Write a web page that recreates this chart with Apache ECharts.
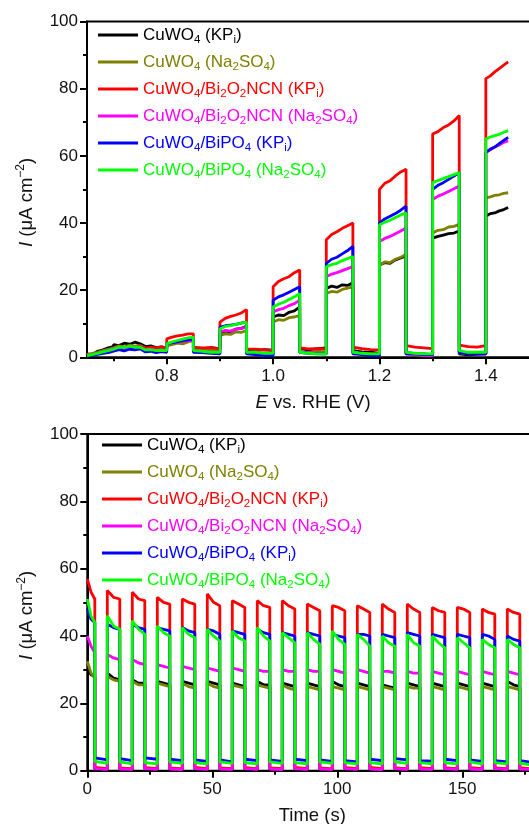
<!DOCTYPE html>
<html>
<head>
<meta charset="utf-8">
<script src="https://cdn.jsdelivr.net/npm/echarts@6/dist/echarts.min.js"></script>
<style>
  html, body { margin: 0; padding: 0; background: #fff; }
  #chart { width: 529px; height: 824px; }
</style>
</head>
<body>
<div id="chart"></div>
<script>
// ---- sample names, legend markup and colours ----
const seriesNames = [
  'CuWO4 (KPi)', 'CuWO4 (Na2SO4)', 'CuWO4/Bi2O2NCN (KPi)',
  'CuWO4/Bi2O2NCN (Na2SO4)', 'CuWO4/BiPO4 (KPi)', 'CuWO4/BiPO4 (Na2SO4)'
];
const legendMarkup = [
  'CuWO{s|4} (KP{s|i})', 'CuWO{s|4} (Na{s|2}SO{s|4})', 'CuWO{s|4}/Bi{s|2}O{s|2}NCN (KP{s|i})',
  'CuWO{s|4}/Bi{s|2}O{s|2}NCN (Na{s|2}SO{s|4})', 'CuWO{s|4}/BiPO{s|4} (KP{s|i})', 'CuWO{s|4}/BiPO{s|4} (Na{s|2}SO{s|4})'
];
const seriesColors = ['#000000', '#808000', '#ff0000', '#ff00ff', '#0000ff', '#00ff00'];

// ---- chopped-light LSV: potential edges (V) and current (µA cm^-2) in each interval ----
const potentialEdges = [0.65, 0.70, 0.75, 0.80, 0.85, 0.90, 0.95, 1.00, 1.05, 1.10, 1.15, 1.20, 1.25, 1.30, 1.35, 1.40, 1.442];
const potentialTicks = [0.8, 1.0, 1.2, 1.4];
const potentialMinorTicks = [0.7, 0.9, 1.1, 1.3];

const lsvCuWO4KPi = [
  [1.0, 0.8, 1.8, 2.2, 2.8, 3.2], [3.8, 3.5, 4.2, 3.9, 4.5, 4.0], [3.6, 3.2, 3.4, 2.9, 3.1, 2.8],
  [4.2, 4.0, 4.6, 4.5, 5.0, 5.2], [2.8, 2.5, 2.9, 2.6], [7.2, 7.8, 7.6, 8.4, 8.6, 9.2],
  [2.4, 2.0, 2.3, 2.1], [12.0, 12.6, 12.4, 13.4, 13.8, 15.0], [2.6, 2.2, 2.6, 2.8],
  [20.5, 21.2, 20.8, 21.6, 21.4, 22.2], [2.0, 1.6, 1.5, 1.2], [27.5, 28.2, 28.0, 29.0, 29.6, 30.2],
  [1.5, 1.1, 1.0, 0.8], [35.5, 36.0, 36.4, 36.8, 37.0, 37.6], [1.0, 0.7, 0.9, 1.0],
  [42.0, 42.8, 43.0, 43.6, 44.0, 44.6]
];
const lsvCuWO4Na2SO4 = [
  [0.8, 1.2, 1.5, 2.0, 2.4, 2.8], [3.0, 3.4, 3.1, 3.6, 3.3, 3.5], [3.0, 2.7, 2.6, 2.4, 2.6, 2.5],
  [3.5, 3.8, 4.2, 4.0, 4.6, 5.0], [2.4, 2.0, 2.2, 2.0], [6.5, 7.0, 6.8, 7.6, 7.4, 8.0],
  [1.5, 1.2, 1.0, 1.0], [10.5, 11.2, 11.0, 11.8, 12.0, 12.5], [1.6, 1.4, 1.8, 1.5],
  [19.0, 19.6, 19.4, 20.2, 20.6, 21.0], [1.5, 1.2, 1.0, 1.0], [27.5, 28.4, 28.2, 29.2, 29.8, 30.6],
  [1.0, 0.8, 0.5, 0.5], [37.0, 37.8, 38.0, 38.8, 39.0, 39.6], [1.4, 1.0, 1.0, 1.2],
  [47.5, 47.8, 48.2, 48.4, 48.8, 49.0]
];
const lsvBi2O2NCNKPi = [
  [0.5, 0.6, 1.2, 1.5, 2.0, 2.4], [2.6, 3.0, 2.8, 3.4, 3.0, 3.2], [3.0, 2.7, 3.0, 2.8, 3.1, 2.8],
  [5.5, 6.0, 6.4, 6.6, 7.0, 7.0], [3.0, 2.8, 2.9, 2.5], [10.5, 11.6, 12.2, 12.6, 13.2, 14.2],
  [2.5, 2.4, 2.2, 2.0], [21.0, 22.6, 23.4, 24.0, 25.2, 26.0], [2.8, 2.5, 2.6, 2.5],
  [35.0, 36.6, 37.4, 38.4, 39.2, 40.0], [3.0, 2.6, 2.3, 2.2], [50.0, 51.8, 52.6, 54.0, 55.2, 56.0],
  [3.5, 3.0, 2.8, 2.6], [66.5, 67.2, 68.4, 69.2, 70.4, 72.0], [3.6, 3.2, 3.0, 3.5],
  [83.0, 83.8, 85.0, 86.0, 87.0, 88.0]
];
const lsvBi2O2NCNNa2SO4 = [
  [0.4, 0.8, 1.2, 1.6, 2.0, 2.5], [2.6, 3.0, 2.7, 3.1, 2.8, 3.0], [2.5, 2.2, 2.4, 2.0, 2.2, 2.0],
  [4.0, 4.4, 4.6, 4.8, 5.0, 5.0], [2.0, 1.8, 1.5, 1.5], [7.5, 8.0, 7.8, 8.4, 8.6, 9.0],
  [1.5, 1.2, 1.0, 1.0], [13.5, 14.2, 14.6, 15.4, 16.0, 17.0], [1.5, 1.4, 1.2, 1.0],
  [24.0, 24.8, 25.2, 25.8, 26.4, 27.0], [1.4, 1.0, 0.8, 0.5], [34.5, 35.4, 36.0, 36.8, 37.6, 38.5],
  [1.0, 0.8, 0.5, 0.5], [47.0, 48.0, 48.6, 49.4, 50.2, 51.0], [1.5, 1.2, 1.0, 1.0],
  [61.0, 61.8, 62.6, 63.2, 64.0, 64.5]
];
const lsvBiPO4KPi = [
  [0.4, 0.6, 0.9, 1.2, 1.4, 1.8], [2.0, 2.3, 1.9, 2.4, 2.2, 2.5], [2.0, 1.6, 1.8, 1.4, 1.7, 1.5],
  [4.0, 4.4, 4.6, 5.0, 5.2, 5.5], [1.5, 1.4, 1.2, 1.0], [9.0, 9.4, 9.6, 9.8, 10.2, 10.5],
  [1.0, 0.8, 0.5, 0.5], [17.0, 18.0, 18.6, 19.4, 20.2, 21.0], [1.5, 1.2, 1.0, 1.0],
  [28.0, 29.2, 29.8, 30.8, 31.8, 33.0], [1.0, 0.8, 0.5, 0.5], [40.0, 41.2, 42.0, 42.8, 43.8, 45.0],
  [1.0, 1.0, 0.8, 0.8], [50.0, 51.2, 52.0, 53.0, 54.0, 55.0], [1.5, 1.0, 1.0, 1.0],
  [61.0, 62.0, 62.6, 63.6, 64.6, 65.5]
];
const lsvBiPO4Na2SO4 = [
  [0.5, 0.8, 1.2, 1.6, 2.0, 2.4], [2.6, 3.0, 2.9, 3.3, 3.0, 3.0], [2.5, 2.2, 2.3, 2.0, 2.1, 2.0],
  [4.0, 4.6, 5.0, 5.4, 5.8, 6.0], [2.0, 1.8, 1.5, 1.5], [8.5, 9.2, 9.4, 9.8, 10.2, 10.5],
  [1.5, 1.5, 1.2, 1.2], [15.0, 15.8, 16.4, 17.2, 18.0, 19.0], [1.5, 1.2, 1.0, 1.0],
  [27.0, 27.6, 28.0, 28.8, 29.4, 30.0], [1.5, 1.2, 1.0, 1.0], [39.5, 40.2, 40.8, 41.6, 42.4, 43.0],
  [1.5, 1.2, 1.0, 1.0], [52.0, 52.6, 53.2, 53.8, 54.4, 55.0], [2.0, 1.5, 1.5, 1.5],
  [65.0, 65.6, 66.0, 66.4, 67.0, 67.5]
];

// ---- transient photocurrent: light on/off times (s) and current levels ----
const lightOnStart = [0, 8, 18, 28, 38, 48, 58, 68, 78, 88, 98, 108, 118, 128, 138, 148, 158, 168];
const lightOffStart = [3, 13, 23, 33, 43, 53, 63, 73, 83, 93, 103, 113, 123, 133, 143, 153, 163, 173];
const recordEnd = 177;
const timeTicks = [0, 50, 100, 150];
const timeMinorTicks = [25, 75, 125, 175];

// [start, middle, end] of each illuminated period
const onCuWO4KPi = [
  [30, 28.5, 28], [29, 27.5, 27], [27, 26, 26], [26.5, 26, 25.5], [26.5, 26, 25.5], [26.5, 26, 25.5],
  [26, 25.5, 25], [26.5, 25.5, 25.5], [26, 25.5, 25], [26, 25.5, 25], [26.5, 25.5, 25], [26, 25.5, 25],
  [25.5, 25, 24.5], [26, 25.5, 25], [26, 25.5, 25], [26, 25.5, 25], [26, 25.5, 25], [26.5, 25.5, 25]
];
const onCuWO4Na2SO4 = [
  [32.5, 29, 27.5], [28, 27, 26.5], [26.5, 25.5, 25.5], [26, 25.5, 25], [26, 25, 24.5], [26, 25, 24.5],
  [25.5, 25, 24.5], [25.5, 25, 24.5], [25.5, 24.5, 24], [25, 24.5, 24], [25, 24.5, 24], [25, 24.5, 24],
  [25, 24.5, 24], [25, 24.5, 24.5], [25, 24.5, 24], [25, 24.5, 24], [25, 24.5, 24], [25, 24.5, 24]
];
const onBi2O2NCNKPi = [
  [57, 53, 51], [53.5, 51.5, 51], [53, 51, 50.5], [51.5, 50, 49.5], [51, 50, 49.5], [52.5, 50, 49],
  [50.5, 49.5, 48.5], [50.5, 49, 48.5], [50.5, 49, 48], [49.5, 48.5, 47.5], [49, 48.5, 47.5], [49, 48, 47],
  [49.5, 48, 47], [49.5, 48, 47], [48.5, 47.5, 47], [48.5, 48, 47], [48, 47, 46.5], [48, 47, 46.5]
];
const onBi2O2NCNNa2SO4 = [
  [40, 37, 35], [34.5, 33.5, 33], [33, 32, 31.5], [31.5, 31, 30.5], [31, 30.5, 30], [30.5, 30, 29.5],
  [30.5, 30, 29.5], [30, 29.5, 29.5], [30, 29.5, 29.5], [30, 29.5, 29.5], [30, 29.5, 29], [30, 29.5, 29],
  [29.5, 29.5, 29], [29.5, 29, 29], [29.5, 29, 28.5], [29.5, 29, 28.5], [29.5, 29, 28.5], [29.5, 29, 28.5]
];
const onBiPO4KPi = [
  [48, 45, 44], [43.5, 42.5, 42], [43.5, 42.5, 42], [42.5, 42, 41.5], [42.5, 41.5, 41], [42, 41.5, 40.5],
  [41.5, 41, 40.5], [42, 41, 40.5], [41, 40.5, 40], [41, 40.5, 40], [40.5, 40, 39.5], [40.5, 40.5, 40],
  [40.5, 40, 39.5], [41, 40.5, 40], [40.5, 40, 39.5], [40.5, 40, 39.5], [40.5, 40, 39], [40, 39, 38.5]
];
const onBiPO4Na2SO4 = [
  [51, 46, 44], [46, 43, 42], [44.5, 42, 40.5], [43, 41, 40], [42.5, 40.5, 39.5], [42, 40, 38.5],
  [41.5, 39.5, 38.5], [42.5, 40, 38.5], [41, 39.5, 38], [41, 39, 37.5], [41.5, 39, 37.5], [40.5, 39, 37],
  [40, 38, 37], [40.5, 38, 37], [40, 38, 36.5], [39.5, 38, 36.5], [39, 37.5, 36.5], [39, 37.5, 36.5]
];

// [start, end] of each dark period
const offCuWO4KPi = [
  [0.4, 0.2], [0.3, 0.2], [0.4, 0.2], [0.3, 0.2], [0.4, 0.3], [0.3, 0.2], [0.4, 0.2], [0.3, 0.2], [0.4, 0.2],
  [0.3, 0.2], [0.4, 0.3], [0.3, 0.2], [0.4, 0.2], [0.3, 0.2], [0.4, 0.2], [0.3, 0.2], [0.4, 0.3], [0.3, 0.2]
];
const offCuWO4Na2SO4 = [
  [0.8, 0.5], [0.7, 0.5], [0.8, 0.6], [0.7, 0.5], [0.8, 0.5], [0.7, 0.5], [0.8, 0.6], [0.7, 0.5], [0.8, 0.5],
  [0.7, 0.5], [0.8, 0.6], [0.7, 0.5], [0.8, 0.5], [0.7, 0.5], [0.8, 0.6], [0.7, 0.5], [0.8, 0.5], [0.7, 0.5]
];
const offBi2O2NCNKPi = [
  [1.0, 0.6], [0.8, 0.5], [0.9, 0.6], [0.8, 0.5], [1.0, 0.6], [0.8, 0.6], [0.9, 0.5], [0.8, 0.6], [1.0, 0.6],
  [0.8, 0.5], [0.9, 0.6], [1.0, 0.6], [0.8, 0.5], [0.9, 0.6], [0.8, 0.5], [0.9, 0.6], [0.8, 0.5], [0.9, 0.6]
];
const offBi2O2NCNNa2SO4 = [
  [0.6, 0.4], [0.5, 0.4], [0.6, 0.4], [0.5, 0.3], [0.6, 0.4], [0.5, 0.4], [0.6, 0.4], [0.5, 0.3], [0.6, 0.4],
  [0.5, 0.4], [0.6, 0.4], [0.5, 0.3], [0.6, 0.4], [0.5, 0.4], [0.6, 0.4], [0.5, 0.3], [0.6, 0.4], [0.5, 0.4]
];
const offBiPO4KPi = [
  [3.8, 3.2], [3.6, 3.0], [3.8, 3.4], [3.4, 3.0], [3.2, 2.8], [3.2, 2.6], [3.4, 3.0], [3.2, 2.8], [3.4, 3.0],
  [3.2, 2.8], [3.0, 2.6], [3.4, 3.0], [3.6, 3.2], [3.0, 2.8], [3.4, 3.0], [3.2, 2.8], [3.0, 2.6], [3.0, 2.6]
];
const offBiPO4Na2SO4 = [
  [2.8, 2.2], [2.6, 2.0], [2.4, 2.0], [2.6, 2.2], [2.4, 2.0], [2.6, 2.2], [2.4, 2.0], [2.6, 2.2], [2.4, 2.0],
  [2.6, 2.2], [2.4, 2.0], [2.4, 2.0], [2.6, 2.2], [2.4, 2.0], [2.4, 2.0], [2.6, 2.0], [2.4, 2.0], [2.2, 1.8]
];

const yTicks = [0, 100, 20];   // min, max, step of the current axes

const lsvSets = [lsvCuWO4KPi, lsvCuWO4Na2SO4, lsvBi2O2NCNKPi, lsvBi2O2NCNNa2SO4, lsvBiPO4KPi, lsvBiPO4Na2SO4];
const onSets = [onCuWO4KPi, onCuWO4Na2SO4, onBi2O2NCNKPi, onBi2O2NCNNa2SO4, onBiPO4KPi, onBiPO4Na2SO4];
const offSets = [offCuWO4KPi, offCuWO4Na2SO4, offBi2O2NCNKPi, offBi2O2NCNNa2SO4, offBiPO4KPi, offBiPO4Na2SO4];

// Spread each interval's readings across its potential window; neighbouring
// windows share an edge, so light switching shows as a vertical step.
function lsvPoints(intervals) {
  const pts = [];
  intervals.forEach((vals, i) => {
    const x0 = potentialEdges[i], x1 = potentialEdges[i + 1];
    vals.forEach((v, j) => pts.push([x0 + (x1 - x0) * j / (vals.length - 1), v]));
  });
  return pts;
}

function transientPoints(onVals, offVals) {
  const pts = [];
  lightOnStart.forEach((t0, k) => {
    const t1 = lightOffStart[k];
    const t2 = k + 1 < lightOnStart.length ? lightOnStart[k + 1] : recordEnd;
    const on = onVals[k], off = offVals[k];
    pts.push([t0, on[0]], [(t0 + t1) / 2, on[1]], [t1, on[2]]);
    pts.push([t1, off[0]], [t2, off[1]]);
  });
  return pts;
}

const FONT = 'Liberation Sans, Arial, Helvetica, sans-serif';
const subStyle = (c) => ({ fontSize: 11.5, lineHeight: 10, verticalAlign: 'bottom', color: c, fontFamily: FONT });

function legendFor(top, left) {
  return {
    orient: 'vertical', top: top, left: left, padding: 0,
    itemGap: 5, itemWidth: 40, itemHeight: 3, icon: 'rect',
    selectedMode: false,
    formatter: (name) => legendMarkup[seriesNames.indexOf(name)],
    textStyle: { fontSize: 17, lineHeight: 22, fontFamily: FONT },
    data: seriesNames.map((n, i) => ({
      name: n,
      textStyle: { color: seriesColors[i], fontSize: 17, lineHeight: 22, fontFamily: FONT,
                   rich: { s: subStyle(seriesColors[i]) } }
    }))
  };
}

const axisLineStyle = { color: '#000', width: 2 };
const labelStyle = { fontSize: 17, color: '#111', fontFamily: FONT };
const titleRich = {
  it: { fontStyle: 'italic', fontSize: 18.5, fontFamily: FONT, color: '#111' },
  sup: { fontSize: 12, lineHeight: 12, verticalAlign: 'top', fontFamily: FONT, color: '#111' }
};

function majorX(grid, min, max, ticks, fmt, name, margin) {
  return {
    type: 'value', gridIndex: grid, min: min, max: max, position: 'bottom',
    axisLine: { show: true, lineStyle: axisLineStyle },
    axisTick: { show: true, customValues: ticks, length: 7, lineStyle: axisLineStyle },
    axisLabel: Object.assign({ customValues: ticks, formatter: fmt, margin: margin }, labelStyle),
    splitLine: { show: false },
    name: name, nameLocation: 'middle', nameGap: 36, nameMoveOverlap: false,
    nameTextStyle: { fontSize: 18.5, color: '#111', fontFamily: FONT, rich: titleRich }
  };
}
function minorX(grid, min, max, ticks) {
  return {
    type: 'value', gridIndex: grid, min: min, max: max, position: 'bottom',
    axisLine: { show: false },
    axisTick: { show: true, customValues: ticks, length: 4, lineStyle: axisLineStyle },
    axisLabel: { show: false }, splitLine: { show: false }
  };
}
function currentY(grid) {
  return {
    type: 'value', gridIndex: grid, min: yTicks[0], max: yTicks[1], interval: yTicks[2],
    axisLine: { show: true, lineStyle: axisLineStyle },
    axisTick: { show: true, length: 7, lineStyle: axisLineStyle },
    minorTick: { show: true, splitNumber: 2, length: 4, lineStyle: axisLineStyle },
    axisLabel: Object.assign({ margin: 9 }, labelStyle),
    splitLine: { show: false }, minorSplitLine: { show: false },
    name: '{it|I} (μA cm{sup|−2})', nameLocation: 'middle', nameGap: 48, nameMoveOverlap: false,
    nameTextStyle: { fontSize: 18.5, lineHeight: 24, color: '#111', fontFamily: FONT, rich: titleRich,
                     padding: [0, 26, 0, 0] }
  };
}

const series = [];
seriesNames.forEach((n, i) => {
  series.push({
    name: n, type: 'line', xAxisIndex: 0, yAxisIndex: 0, data: lsvPoints(lsvSets[i]),
    showSymbol: false, symbol: 'none', clip: true, z: 2 + i,
    lineStyle: { color: seriesColors[i], width: 2.8 }, itemStyle: { color: seriesColors[i] }
  });
});
seriesNames.forEach((n, i) => {
  series.push({
    name: n, type: 'line', xAxisIndex: 2, yAxisIndex: 1, data: transientPoints(onSets[i], offSets[i]),
    showSymbol: false, symbol: 'none', clip: true, z: 2 + i,
    lineStyle: { color: seriesColors[i], width: 2.8 }, itemStyle: { color: seriesColors[i] }
  });
});

const chart = echarts.init(document.getElementById('chart'), null, { renderer: 'canvas' });
chart.setOption({
  animation: false,
  backgroundColor: '#fff',
  grid: [
    { left: 87, top: 21.5, width: 452, height: 335.8, show: true, borderColor: '#000', borderWidth: 2,
      backgroundColor: 'transparent', containLabel: false, outerBoundsMode: 'none' },
    { left: 87.3, top: 434, width: 450, height: 336.7, show: true, borderColor: '#000', borderWidth: 2,
      backgroundColor: 'transparent', containLabel: false, outerBoundsMode: 'none' }
  ],
  xAxis: [
    majorX(0, 0.65, 1.5, potentialTicks, (v) => v.toFixed(1), '{it|E} vs. RHE (V)', 11),
    minorX(0, 0.65, 1.5, potentialMinorTicks),
    majorX(1, 0, 180, timeTicks, (v) => String(v), 'Time (s)', 10),
    minorX(1, 0, 180, timeMinorTicks)
  ],
  yAxis: [currentY(0), currentY(1)],
  legend: [legendFor(24, 98), legendFor(434, 102)],
  series: series
});
</script>
</body>
</html>
